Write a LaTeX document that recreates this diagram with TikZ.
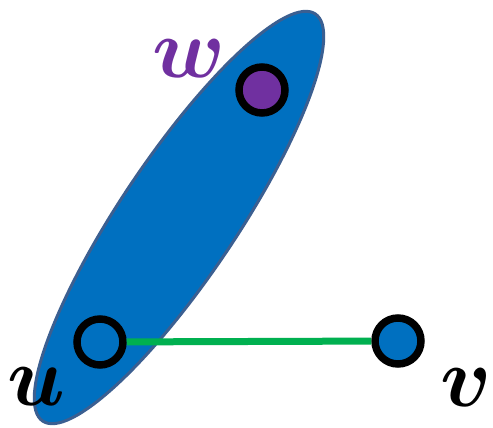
\documentclass[tikz,border=0pt]{standalone}
\usepackage{graphicx}
\usepackage{amsmath}
\definecolor{blobfill}{HTML}{0070C0}
\definecolor{blobline}{HTML}{3B5F91}
\definecolor{edgegreen}{HTML}{00B050}
\definecolor{wpurple}{HTML}{7030A0}
\newcommand{\biglabel}[1]{\scalebox{8.5}{\boldmath$#1$}}
\tikzset{
  vert/.style={circle, draw=black, line width=7.5pt, minimum size=46pt, inner sep=0pt},
  lbl/.style={inner sep=0pt},
}
\begin{document}
\begin{tikzpicture}[x=1pt,y=1pt]
\useasboundingbox (0,0) rectangle (493,428);
\fill[blobfill, draw=blobline, line width=3pt, rotate around={56.2:(179,210.5)}]
  (179,210.5) ellipse [x radius=245, y radius=58.5];
\node[vert, fill=wpurple] (w) at (262,338) {};
\node[vert, fill=blobfill] (u) at (100,86) {};
\node[vert, fill=blobfill] (v) at (398,87) {};
\draw[edgegreen, line width=7pt] (u) -- (v);
\node[lbl, text=wpurple] (lw) at (189,369) {\biglabel{w}};
\node[lbl] (lu) at (36,41) {\biglabel{u}};
\node[lbl] (lv) at (466,40) {\biglabel{v}};
\end{tikzpicture}
\end{document}
